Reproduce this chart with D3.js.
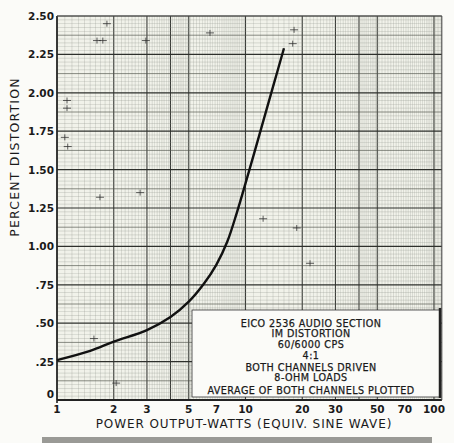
<!DOCTYPE html>
<html lang="en">
<head>
  <meta charset="UTF-8">
  <script src="https://cdn.jsdelivr.net/npm/d3@7/dist/d3.min.js"></script>
  <title>EICO 2536 IM distortion</title>
  <style>
    body { margin: 0; background: #fbfbf8; }
    text { font-family: "DejaVu Sans", sans-serif; fill: #1a1a1a; }
  </style>
</head>
<body>
  <svg width="454" height="443"></svg>
  <script>
    // curve
    var power = [1, 1.5, 2, 3, 4, 5, 6, 7, 8, 9, 10, 12, 14, 16];
    var distortion = [0.26, 0.32, 0.38, 0.455, 0.54, 0.64, 0.755, 0.88, 1.03, 1.22, 1.41, 1.75, 2.04, 2.29];

    var xTicks = [1, 2, 3, 5, 7, 10, 20, 30, 50, 70, 100];
    var yTicks = [0, 0.25, 0.5, 0.75, 1, 1.25, 1.5, 1.75, 2, 2.25, 2.5];
    var yTickLabels = ["0", ".25", ".50", ".75", "1.00", "1.25", "1.50", "1.75", "2.00", "2.25", "2.50"];

    var boxLines = ["EICO 2536 AUDIO SECTION", "IM DISTORTION", "60/6000 CPS", "4:1",
      "BOTH CHANNELS DRIVEN", "8-OHM LOADS", "AVERAGE OF BOTH CHANNELS PLOTTED"];

    // little stray marks on the paper (watts, percent)
    var strayW = [1.13, 1.13, 1.10, 1.14, 1.63, 1.75, 1.84, 1.69, 2.76, 2.96, 6.48, 18.1, 17.8, 12.4, 18.7, 22.0, 1.57, 2.06];
    var strayP = [1.95, 1.90, 1.71, 1.65, 2.34, 2.34, 2.45, 1.32, 1.35, 2.34, 2.39, 2.41, 2.32, 1.18, 1.12, 0.89, 0.40, 0.11];

    var svg = d3.select("svg");
    var x = d3.scaleLog().domain([1, 100]).range([57, 434]);
    var y = d3.scaleLinear().domain([0, 2.5]).range([400, 16]);
    var xEnd = 110; // paper runs a bit past 100

    // paper
    svg.append("rect")
      .attr("x", x(1)).attr("y", y(2.5))
      .attr("width", x(xEnd) - x(1)).attr("height", y(0) - y(2.5))
      .attr("fill", "#f1f2ea");

    var grid = svg.append("g");

    // vertical log grid
    var vMinor = [], vMajor = [];
    [1, 10].forEach(function (dec) {
      for (var v = 1; v < 10; v += (v < 5 ? 0.1 : 0.2)) {
        var val = +(v.toFixed(2)) * dec;
        if (Math.abs(v - Math.round(v)) < 1e-6) vMajor.push(val); else vMinor.push(val);
      }
    });
    for (var v = 100; v <= xEnd; v += 2) (v == 100 ? vMajor : vMinor).push(v);

    grid.selectAll(".vmin").data(vMinor).enter().append("line")
      .attr("x1", d => x(d)).attr("x2", d => x(d))
      .attr("y1", y(0)).attr("y2", y(2.5))
      .attr("stroke", "#8d9088").attr("stroke-width", 0.5).attr("opacity", 0.5);
    grid.selectAll(".vmaj").data(vMajor).enter().append("line")
      .attr("x1", d => x(d)).attr("x2", d => x(d))
      .attr("y1", y(0)).attr("y2", y(2.5))
      .attr("stroke", "#3a3c38").attr("stroke-width", 1.1);

    // horizontal grid
    var hLines = d3.range(0, 101).map(i => i * 0.025);
    grid.selectAll(".h").data(hLines).enter().append("line")
      .attr("x1", x(1)).attr("x2", x(xEnd))
      .attr("y1", d => y(d)).attr("y2", d => y(d))
      .attr("stroke", (d, i) => i % 10 == 0 ? "#2e302c" : (i % 5 == 0 ? "#55584f" : "#8d9088"))
      .attr("stroke-width", (d, i) => i % 10 == 0 ? 1.2 : (i % 5 == 0 ? 0.9 : 0.5))
      .attr("opacity", (d, i) => i % 10 == 0 ? 1 : (i % 5 == 0 ? 0.75 : 0.55));

    // frame
    svg.append("line").attr("x1", x(1)).attr("x2", x(1)).attr("y1", y(2.5)).attr("y2", y(0) + 3)
      .attr("stroke", "#222").attr("stroke-width", 1.6);
    svg.append("line").attr("x1", x(1)).attr("x2", x(xEnd)).attr("y1", y(0)).attr("y2", y(0))
      .attr("stroke", "#222").attr("stroke-width", 1.8);
    svg.append("line").attr("x1", x(xEnd)).attr("x2", x(xEnd)).attr("y1", y(2.5)).attr("y2", y(0))
      .attr("stroke", "#444").attr("stroke-width", 1);
    svg.append("line").attr("x1", x(1)).attr("x2", x(xEnd)).attr("y1", y(2.5)).attr("y2", y(2.5))
      .attr("stroke", "#555").attr("stroke-width", 0.8);

    // stray marks
    var stray = svg.append("g").attr("stroke", "#333").attr("stroke-width", 0.8);
    strayW.forEach(function (w, i) {
      var cx = x(w), cy = y(strayP[i]);
      stray.append("line").attr("x1", cx - 4).attr("x2", cx + 4).attr("y1", cy).attr("y2", cy);
      stray.append("line").attr("x1", cx).attr("x2", cx).attr("y1", cy - 3).attr("y2", cy + 3);
    });

    // legend box
    var box = svg.append("g");
    box.append("rect").attr("x", 192).attr("y", 310).attr("width", 248).attr("height", 87)
      .attr("fill", "#fbfbf8").attr("stroke", "#333").attr("stroke-width", 0.8);
    box.append("line").attr("x1", 440).attr("x2", 440).attr("y1", 308).attr("y2", 398)
      .attr("stroke", "#222").attr("stroke-width", 2.5);
    box.selectAll("text").data(boxLines).enter().append("text")
      .attr("x", 311).attr("y", (d, i) => [327, 337, 348, 359, 371, 381, 394][i])
      .attr("text-anchor", "middle")
      .attr("font-size", 9.6)
      .attr("letter-spacing", 0.45)
      .attr("stroke", "#1a1a1a").attr("stroke-width", 0.25)
      .text(d => d);

    // curve
    var line = d3.line()
      .x((d, i) => x(power[i]))
      .y(d => y(d))
      .curve(d3.curveCatmullRom.alpha(0.5));
    svg.append("path").datum(distortion)
      .attr("d", line)
      .attr("fill", "none").attr("stroke", "#111").attr("stroke-width", 2.4);

    // axis labels
    svg.selectAll(".yl").data(yTicks).enter().append("text")
      .attr("x", 54).attr("y", (d, i) => i == 0 ? y(d) - 2 : y(d) + 4)
      .attr("text-anchor", "end").attr("font-size", 10.5).attr("font-weight", "bold")
      .text((d, i) => yTickLabels[i]);

    svg.selectAll(".xl").data(xTicks).enter().append("text")
      .attr("x", d => x(d)).attr("y", 413)
      .attr("text-anchor", "middle").attr("font-size", 10.5).attr("font-weight", "bold")
      .text(d => d);

    svg.append("text")
      .attr("x", 244).attr("y", 428)
      .attr("text-anchor", "middle").attr("font-size", 12).attr("letter-spacing", 0.9)
      .text("POWER OUTPUT-WATTS (EQUIV. SINE WAVE)");

    svg.append("text")
      .attr("transform", "translate(19,157) rotate(-90)")
      .attr("text-anchor", "middle").attr("font-size", 12.5).attr("letter-spacing", 1.2)
      .text("PERCENT DISTORTION");

    // strip of the next figure at the bottom edge
    svg.append("rect").attr("x", 42).attr("y", 437).attr("width", 390).attr("height", 6)
      .attr("fill", "#9a9a96");
  </script>
</body>
</html>
